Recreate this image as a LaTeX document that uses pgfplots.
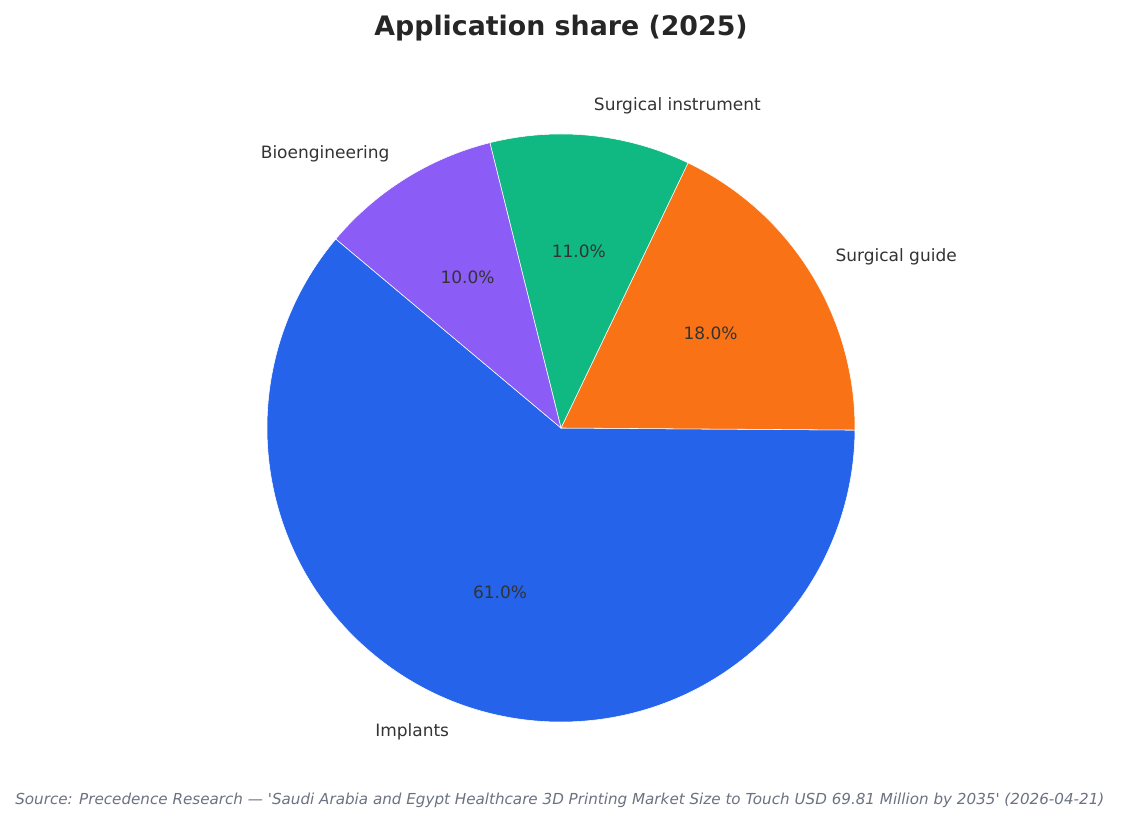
\documentclass[border=0pt]{standalone}
\usepackage{pgfplots}
\pgfplotsset{compat=1.18}
\usepackage{fontspec}
\setmainfont{DejaVu Sans}
\definecolor{cImpl}{HTML}{2563EB}
\definecolor{cGuide}{HTML}{F97316}
\definecolor{cInstr}{HTML}{10B981}
\definecolor{cBio}{HTML}{8B5CF6}
\definecolor{tdark}{HTML}{333333}
\definecolor{ttitle}{HTML}{262626}
\definecolor{tsrc}{HTML}{6B7280}
% shares (percent)
\def\vImpl{61}
\def\vGuide{18}
\def\vInstr{11}
\def\vBio{10}
\def\startangle{140}
\newcommand\slice[3]{%
  \fill[#3, draw=white, line width=0.4pt] (axis cs:561,396) -- ++(#1:211.68pt)
    arc[start angle=#1, end angle=#2, radius=211.68pt] -- cycle;}
\newcommand\pct[3]{%
  \path (axis cs:561,396) ++({(#1+#2)/2}:127.0pt)
    node[text=tdark, inner sep=0pt, yshift=0.9pt, font=\fontsize{12.24}{14}\selectfont]
    {\pgfmathprintnumber[fixed, precision=1, fixed zerofill, assume math mode=true]{#3}\%};}
\newcommand\lbl[4]{%
  \path (axis cs:561,396) ++({(#1+#2)/2}:232.85pt)
    node[anchor=#3, text=tdark, inner sep=0pt, font=\fontsize{12.24}{14}\selectfont] {#4};}
\begin{document}
\begin{tikzpicture}
\pgfmathsetmacro\aA{\startangle}
\pgfmathsetmacro\aB{\aA+\vImpl*3.6}
\pgfmathsetmacro\aC{\aB+\vGuide*3.6}
\pgfmathsetmacro\aD{\aC+\vInstr*3.6}
\pgfmathsetmacro\aE{\aD+\vBio*3.6}
\begin{axis}[width=807.12pt, height=593.28pt, scale only axis, hide axis,
  xmin=0, xmax=1121, ymin=0, ymax=824, clip=false]
\slice{\aA}{\aB}{cImpl}
\slice{\aB}{\aC}{cGuide}
\slice{\aC}{\aD}{cInstr}
\slice{\aD}{\aE}{cBio}
\pct{\aA}{\aB}{\vImpl}
\pct{\aB}{\aC}{\vGuide}
\pct{\aC}{\aD}{\vInstr}
\pct{\aD}{\aE}{\vBio}
\lbl{\aA}{\aB}{east}{Implants}
\lbl{\aB}{\aC}{west}{Surgical guide}
\lbl{\aC}{\aD}{west}{Surgical instrument}
\lbl{\aD}{\aE}{east}{Bioengineering}
\node[text=ttitle, font=\fontsize{19.3}{22}\selectfont\bfseries, inner sep=0pt]
  at (axis cs:561,796) {Application share (2025)};
\node[anchor=base west, text=tsrc, inner sep=0pt, font=\fontsize{10.91}{12}\selectfont\itshape]
  at (axis cs:15,19) {Source: Precedence Research — \textquotesingle Saudi Arabia and Egypt Healthcare 3D Printing Market Size to Touch USD 69.81 Million by 2035\textquotesingle{} (2026-04-21)};
\end{axis}
\pgfresetboundingbox
\path (current axis.south west) rectangle (current axis.north east);
\end{tikzpicture}
\end{document}
